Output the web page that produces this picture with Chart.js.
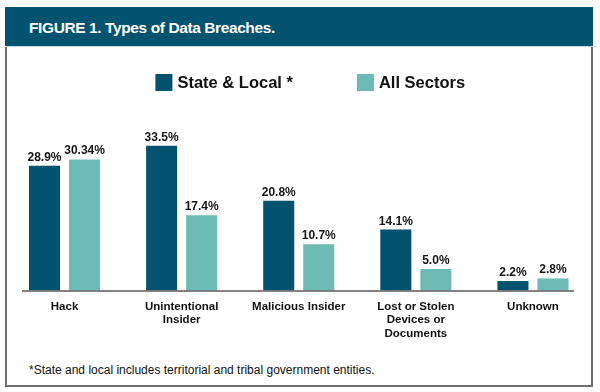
<!DOCTYPE html>
<html>
<head>
<meta charset="utf-8">
<script src="https://cdn.jsdelivr.net/npm/chart.js@4.4.1/dist/chart.umd.min.js"></script>
<style>
  html, body { margin: 0; padding: 0; background: #ffffff; }
  body { width: 600px; height: 392px; position: relative; overflow: hidden; font-family: "Liberation Sans", Arial, Helvetica, sans-serif; }
  #frame { position: absolute; left: 5px; top: 7px; width: 584px; height: 378px; border: 2px solid #6e6e6e; border-top: none; box-sizing: content-box; }
  #titlebar { position: absolute; left: 5px; top: 7px; width: 588px; height: 39px; background: #02536f; border-bottom: 1px solid #c9dbe2; }
  #title { position: absolute; left: 29px; top: 19px; color: #ffffff; font-weight: bold; font-size: 15.5px; letter-spacing: -0.4px; white-space: nowrap; }
  #note { position: absolute; left: 29px; top: 363px; color: #111; font-size: 12px; white-space: nowrap; }
  #wrap { position: absolute; left: 0; top: 0; width: 600px; height: 392px; }
</style>
</head>
<body>
<div id="frame"></div>
<div id="titlebar"></div>
<div id="title">FIGURE 1. Types of Data Breaches.</div>
<div id="note">*State and local includes territorial and tribal government entities.</div>
<div id="wrap"><canvas id="c" width="600" height="392"></canvas></div>
<script>
const categories = [
  'Hack',
  ['Unintentional', 'Insider'],
  'Malicious Insider',
  ['Lost or Stolen', 'Devices or', 'Documents'],
  'Unknown'
];
const seriesNames = ['State & Local *', 'All Sectors'];
const stateLocal = [28.9, 33.5, 20.8, 14.1, 2.2];
const allSectors = [30.34, 17.4, 10.7, 5.0, 2.8];
const seriesColors = ['#03536e', '#6bbab3'];

function fmt(v) {
  const s = (Math.abs(v * 10 - Math.round(v * 10)) < 1e-9) ? v.toFixed(1) : String(v);
  return s + '%';
}

const valueLabels = {
  id: 'valueLabels',
  afterDatasetsDraw(chart) {
    const ctx = chart.ctx;
    ctx.save();
    ctx.font = 'bold 12px "Liberation Sans", Arial, sans-serif';
    ctx.fillStyle = '#151515';
    ctx.textAlign = 'center';
    ctx.textBaseline = 'alphabetic';
    chart.data.datasets.forEach((ds, i) => {
      const meta = chart.getDatasetMeta(i);
      meta.data.forEach((el, j) => {
        ctx.fillText(fmt(ds.data[j]), el.x, el.y - 5);
      });
    });
    ctx.restore();
  }
};

const baseLine = {
  id: 'baseLine',
  afterDatasetsDraw(chart) {
    const a = chart.chartArea;
    const ctx = chart.ctx;
    ctx.save();
    ctx.strokeStyle = '#5a5a5a';
    ctx.lineWidth = 1.5;
    ctx.beginPath();
    ctx.moveTo(a.left + 16, a.bottom + 0.5);
    ctx.lineTo(a.right - 17.5, a.bottom + 0.5);
    ctx.stroke();
    ctx.restore();
  }
};

const customLegend = {
  id: 'customLegend',
  afterDraw(chart) {
    const ctx = chart.ctx;
    const a = chart.chartArea;
    const box = 17, gapText = 5, gapItem = 64;
    ctx.save();
    ctx.font = 'bold 16.5px "Liberation Sans", Arial, sans-serif';
    const widths = chart.data.datasets.map(ds => ctx.measureText(ds.label).width);
    let total = 0;
    widths.forEach((w, i) => { total += box + gapText + w + (i < widths.length - 1 ? gapItem : 0); });
    let x = (a.left + a.right) / 2 + 11.5 - total / 2;
    const y = 74;
    chart.data.datasets.forEach((ds, i) => {
      ctx.fillStyle = ds.backgroundColor;
      ctx.fillRect(x, y, box, box);
      ctx.fillStyle = '#111111';
      ctx.textAlign = 'left';
      ctx.textBaseline = 'middle';
      ctx.fillText(ds.label, x + box + gapText, y + box / 2 + 1);
      x += box + gapText + widths[i] + gapItem;
    });
    ctx.restore();
  }
};

new Chart(document.getElementById('c'), {
  type: 'bar',
  data: {
    labels: categories,
    datasets: [
      { label: seriesNames[0], data: stateLocal, backgroundColor: seriesColors[0], barPercentage: 0.775, categoryPercentage: 0.684 },
      { label: seriesNames[1], data: allSectors, backgroundColor: seriesColors[1], barPercentage: 0.775, categoryPercentage: 0.684 }
    ]
  },
  options: {
    responsive: false,
    animation: false,
    layout: { padding: { left: 6, right: 8.5, top: 117.7, bottom: 51.5 } },
    plugins: { legend: { display: false }, tooltip: { enabled: false }, title: { display: false } },
    scales: {
      x: {
        grid: { display: false, drawTicks: false },
        border: { display: false },
        ticks: {
          padding: 9,
          color: '#111111',
          maxRotation: 0,
          autoSkip: false,
          font: { family: '"Liberation Sans", Arial, sans-serif', size: 11.5, weight: 'bold', lineHeight: 1.2 }
        },
        afterFit(scale) { scale.height = 50; }
      },
      y: {
        display: false,
        min: 0,
        max: 40
      }
    }
  },
  plugins: [valueLabels, baseLine, customLegend]
});
</script>
</body>
</html>
